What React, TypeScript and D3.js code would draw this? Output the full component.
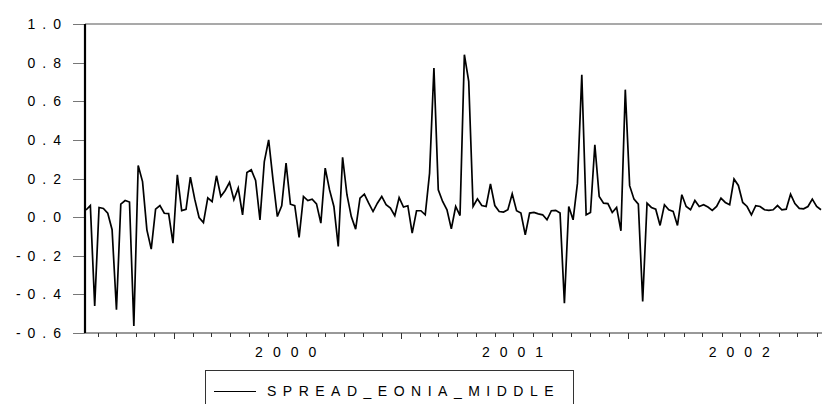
import React from "react";
import * as d3 from "d3";

const seriesName = "SPREAD_EONIA_MIDDLE";
const startDate = new Date(1999, 7, 13);
const spread: number[] = [
  0.037, 0.06, -0.46, 0.05, 0.045, 0.02, -0.065, -0.48, 0.067, 0.086,
  0.078, -0.563, 0.267, 0.184, -0.066, -0.166, 0.041, 0.06, 0.02, 0.018,
  -0.135, 0.219, 0.034, 0.04, 0.207, 0.093, -0.002, -0.028, 0.1, 0.08,
  0.214, 0.107, 0.138, 0.18, 0.09, 0.15, 0.012, 0.231, 0.245, 0.19,
  -0.014, 0.288, 0.4, 0.193, 0.003, 0.059, 0.28, 0.067, 0.059, -0.105,
  0.107, 0.086, 0.093, 0.069, -0.031, 0.254, 0.141, 0.055, -0.152, 0.31,
  0.116, 0.003, -0.062, 0.098, 0.119, 0.072, 0.029, 0.072, 0.107, 0.064,
  0.047, 0.007, 0.101, 0.052, 0.059, -0.083, 0.033, 0.033, 0.012, 0.228,
  0.772, 0.141, 0.081, 0.038, -0.061, 0.055, 0.008, 0.841, 0.703, 0.055,
  0.095, 0.06, 0.055, 0.172, 0.06, 0.029, 0.026, 0.038, 0.121, 0.033,
  0.021, -0.092, 0.021, 0.024, 0.017, 0.012, -0.014, 0.033, 0.035, 0.021,
  -0.446, 0.055, -0.014, 0.176, 0.737, 0.012, 0.024, 0.375, 0.107, 0.072,
  0.07, 0.024, 0.05, -0.071, 0.66, 0.163, 0.093, 0.067, -0.437, 0.072,
  0.05, 0.041, -0.043, 0.064, 0.038, 0.03, -0.043, 0.116, 0.055, 0.038,
  0.086, 0.055, 0.064, 0.052, 0.035, 0.055, 0.098, 0.076, 0.064, 0.197,
  0.164, 0.076, 0.055, 0.012, 0.059, 0.055, 0.038, 0.035, 0.038, 0.06,
  0.038, 0.041, 0.119, 0.07, 0.045, 0.043, 0.055, 0.093, 0.055, 0.038,
];
const yTicks: number[] = [-0.6, -0.4, -0.2, 0.0, 0.2, 0.4, 0.6, 0.8, 1.0];
const yearLabels: number[] = [2000, 2001, 2002];

const W = 822;
const H = 404;
const left = 85;
const right = 821;
const top = 24;
const bottom = 333;
const font = "'Liberation Sans', Arial, sans-serif";

export default function App() {
  const dates = spread.map((_, i) => d3.timeDay.offset(startDate, 7 * i));
  const x = d3
    .scaleTime()
    .domain([dates[0], dates[dates.length - 1]])
    .range([left + 1, right]);
  const y = d3.scaleLinear().domain([-0.6, 1.0]).range([bottom, top]);
  const line = d3
    .line<number>()
    .x((_, i) => x(dates[i]))
    .y((d) => y(d));
  const months = d3.timeMonth.range(dates[0], dates[dates.length - 1]);

  return (
    <svg
      width={W}
      height={H}
      style={{ position: "absolute", left: 0, top: 0, background: "#fff" }}
    >
      <rect x={0} y={0} width={W} height={H} fill="#fff" />
      {/* top frame */}
      <line x1={left} x2={W} y1={top} y2={top} stroke="#555" strokeWidth={1.2} />
      {/* bottom axis */}
      <line x1={left} x2={W} y1={bottom} y2={bottom} stroke="#333" strokeWidth={1} />
      {months.map((m, i) => {
        const isYear = m.getMonth() === 0;
        const xx = Math.round(x(m)) + 0.5;
        return (
          <line
            key={"m" + i}
            x1={xx}
            x2={xx}
            y1={bottom}
            y2={bottom + (isYear ? 6 : 4)}
            stroke="#333"
            strokeWidth={1}
          />
        );
      })}
      {yearLabels.map((yr) => (
        <text
          key={"yl" + yr}
          x={x(new Date(yr, 6, 1)) + 4}
          y={357}
          textAnchor="middle"
          fontFamily={font}
          fontSize={14}
          letterSpacing={10}
          fill="#000"
        >
          {String(yr)}
        </text>
      ))}
      {/* y ticks */}
      {yTicks.map((t) => (
        <g key={"yt" + t}>
          <line
            x1={left - 12}
            x2={left}
            y1={Math.round(y(t)) + 0.5}
            y2={Math.round(y(t)) + 0.5}
            stroke="#777"
            strokeWidth={1}
          />
          <text
            x={68}
            y={y(t)}
            dy="0.36em"
            textAnchor="end"
            fontFamily={font}
            fontSize={14}
            letterSpacing={7}
            fill="#000"
          >
            {t.toFixed(1)}
          </text>
        </g>
      ))}
      {/* left axis */}
      <line x1={left} x2={left} y1={top} y2={bottom} stroke="#000" strokeWidth={2.2} />
      {/* series */}
      <path
        d={line(spread) || ""}
        fill="none"
        stroke="#000"
        strokeWidth={1.7}
        strokeLinejoin="miter"
      />
      {/* legend */}
      <rect x={205.5} y={370.5} width={368} height={50} fill="#fff" stroke="#333" strokeWidth={1} />
      <line x1={214} x2={256} y1={391.5} y2={391.5} stroke="#000" strokeWidth={1} />
      <text
        x={267}
        y={396}
        fontFamily={font}
        fontSize={14}
        letterSpacing={6.5}
        fill="#000"
      >
        {seriesName}
      </text>
    </svg>
  );
}
